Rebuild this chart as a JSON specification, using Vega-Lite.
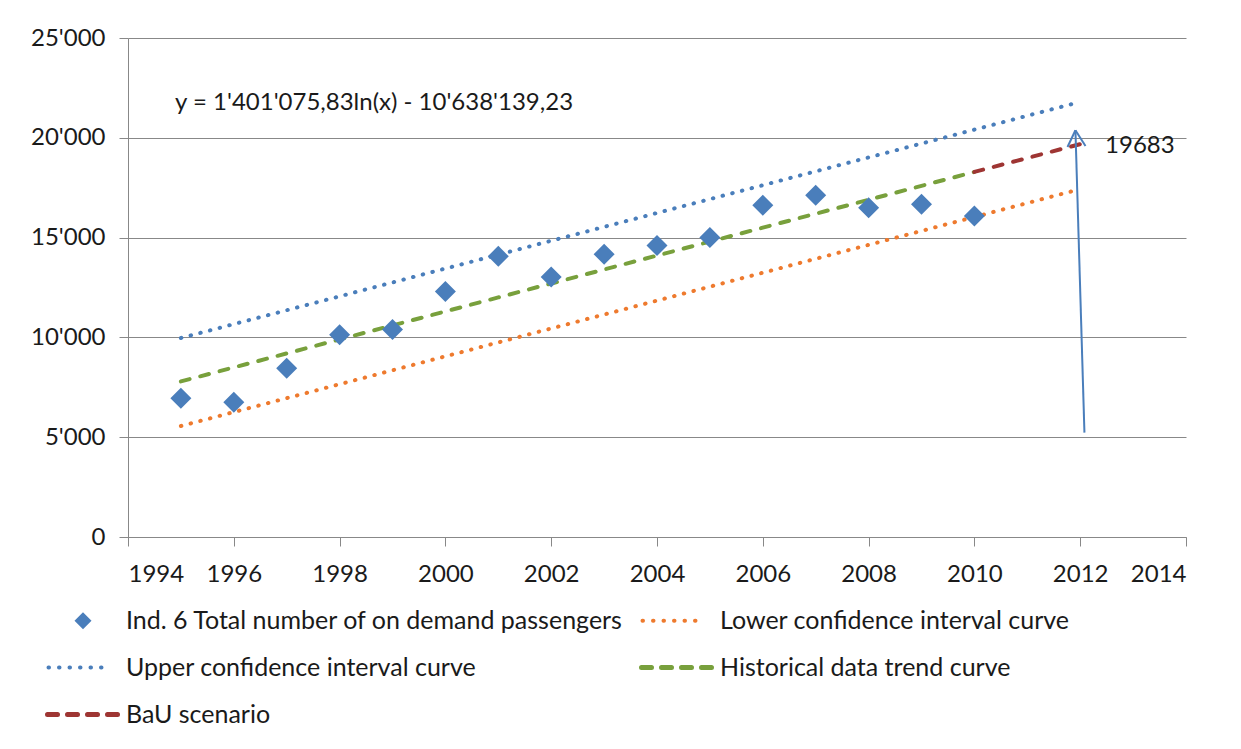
{
  "$schema": "https://vega.github.io/schema/vega-lite/v6.json",
  "width": 1058,
  "height": 499,
  "autosize": {"type": "none"},
  "padding": {"left": 128, "top": 38, "right": 55, "bottom": 212},
  "background": "white",
  "config": {
    "view": {"stroke": null},
    "font": "Lato",
    "axis": {
      "labelFont": "Lato",
      "labelFontSize": 24,
      "labelColor": "#1a1a1a",
      "domainColor": "#888888",
      "tickColor": "#888888",
      "gridColor": "#888888",
      "gridWidth": 1,
      "tickSize": 9,
      "title": null
    },
    "legend": {
      "labelFont": "Lato",
      "labelFontSize": 25,
      "labelColor": "#1a1a1a",
      "labelLimit": 1000
    }
  },
  "datasets": {
    "series": [
      {"series": "Ind. 6 Total number of on demand passengers", "year": 1995, "value": 6950},
      {"series": "Ind. 6 Total number of on demand passengers", "year": 1996, "value": 6750},
      {"series": "Ind. 6 Total number of on demand passengers", "year": 1997, "value": 8450},
      {"series": "Ind. 6 Total number of on demand passengers", "year": 1998, "value": 10130},
      {"series": "Ind. 6 Total number of on demand passengers", "year": 1999, "value": 10390},
      {"series": "Ind. 6 Total number of on demand passengers", "year": 2000, "value": 12300},
      {"series": "Ind. 6 Total number of on demand passengers", "year": 2001, "value": 14060},
      {"series": "Ind. 6 Total number of on demand passengers", "year": 2002, "value": 13020},
      {"series": "Ind. 6 Total number of on demand passengers", "year": 2003, "value": 14160},
      {"series": "Ind. 6 Total number of on demand passengers", "year": 2004, "value": 14610},
      {"series": "Ind. 6 Total number of on demand passengers", "year": 2005, "value": 15000},
      {"series": "Ind. 6 Total number of on demand passengers", "year": 2006, "value": 16620},
      {"series": "Ind. 6 Total number of on demand passengers", "year": 2007, "value": 17120},
      {"series": "Ind. 6 Total number of on demand passengers", "year": 2008, "value": 16500},
      {"series": "Ind. 6 Total number of on demand passengers", "year": 2009, "value": 16670},
      {"series": "Ind. 6 Total number of on demand passengers", "year": 2010, "value": 16080},
      {"series": "Lower confidence interval curve", "year": 1995, "value": 5560},
      {"series": "Lower confidence interval curve", "year": 2012, "value": 17430},
      {"series": "Upper confidence interval curve", "year": 1995, "value": 9970},
      {"series": "Upper confidence interval curve", "year": 2012, "value": 21800},
      {"series": "Historical data trend curve", "year": 1995, "value": 7794},
      {"series": "Historical data trend curve", "year": 1996, "value": 8496},
      {"series": "Historical data trend curve", "year": 1997, "value": 9198},
      {"series": "Historical data trend curve", "year": 1998, "value": 9900},
      {"series": "Historical data trend curve", "year": 1999, "value": 10601},
      {"series": "Historical data trend curve", "year": 2000, "value": 11302},
      {"series": "Historical data trend curve", "year": 2001, "value": 12002},
      {"series": "Historical data trend curve", "year": 2002, "value": 12702},
      {"series": "Historical data trend curve", "year": 2003, "value": 13402},
      {"series": "Historical data trend curve", "year": 2004, "value": 14101},
      {"series": "Historical data trend curve", "year": 2005, "value": 14800},
      {"series": "Historical data trend curve", "year": 2006, "value": 15499},
      {"series": "Historical data trend curve", "year": 2007, "value": 16197},
      {"series": "Historical data trend curve", "year": 2008, "value": 16895},
      {"series": "Historical data trend curve", "year": 2009, "value": 17593},
      {"series": "Historical data trend curve", "year": 2010, "value": 18290},
      {"series": "BaU scenario", "year": 2010, "value": 18290},
      {"series": "BaU scenario", "year": 2011, "value": 18987},
      {"series": "BaU scenario", "year": 2012, "value": 19684}
    ],
    "arrow": [
      {"part": "shaft", "x": 2012.08, "y": 5230, "x2": 2011.91, "y2": 20380},
      {"part": "left", "x": 2011.76, "y": 19540, "x2": 2011.91, "y2": 20380},
      {"part": "right", "x": 2012.1, "y": 19590, "x2": 2011.91, "y2": 20380}
    ],
    "notes": [
      {"year": 1994.89, "value": 21730, "text": "y = 1'401'075,83ln(x) - 10'638'139,23"},
      {"year": 2012.47, "value": 19570, "text": "19683"}
    ]
  },
  "layer": [
    {
      "data": {"name": "series"},
      "transform": [{"filter": "datum.series !== 'Ind. 6 Total number of on demand passengers'"}],
      "mark": {"type": "line", "strokeCap": "round"},
      "encoding": {
        "x": {
          "field": "year", "type": "quantitative",
          "scale": {"domain": [1994, 2014], "nice": false, "zero": false},
          "axis": {"values": [1994, 1996, 1998, 2000, 2002, 2004, 2006, 2008, 2010, 2012, 2014], "format": "d", "grid": false, "labelPadding": 16}
        },
        "y": {
          "field": "value", "type": "quantitative",
          "scale": {"domain": [0, 25000], "nice": false},
          "axis": {"values": [0, 5000, 10000, 15000, 20000, 25000], "grid": true, "labelPadding": 14,
                   "labelExpr": "replace(format(datum.value, ','), ',', \"'\")"}
        },
        "color": {
          "field": "series", "type": "nominal",
          "scale": {
            "domain": ["Ind. 6 Total number of on demand passengers", "Lower confidence interval curve", "Upper confidence interval curve", "Historical data trend curve", "BaU scenario"],
            "range": ["#4A7EBB", "#EE7A2E", "#4A7EBB", "#78A03C", "#9E3533"]
          },
          "legend": {
            "title": null,
            "orient": "none",
            "legendX": -91,
            "legendY": 570,
            "columns": 2,
            "direction": "horizontal",
            "rowPadding": 21,
            "columnPadding": 7,
            "labelOffset": 36,
            "symbolType": "stroke",
            "symbolSize": 2916,
            "symbolStrokeWidth": 4,
            "encode": {
              "symbols": {
                "update": {
                  "x": {"signal": "datum.value === 'Ind. 6 Total number of on demand passengers' ? 46 : (datum.value === 'Lower confidence interval curve' || datum.value === 'Upper confidence interval curve' ? 43 : 45.5)"},
                  "shape": {"signal": "datum.value === 'Ind. 6 Total number of on demand passengers' ? 'diamond' : 'stroke'"},
                  "size": {"signal": "datum.value === 'Ind. 6 Total number of on demand passengers' ? 289 : (datum.value === 'Lower confidence interval curve' || datum.value === 'Upper confidence interval curve' ? 3969 : 4900)"},
                  "fill": {"signal": "datum.value === 'Ind. 6 Total number of on demand passengers' ? '#4A7EBB' : 'transparent'"},
                  "stroke": {"signal": "scale('color', datum.value)"},
                  "strokeWidth": {"signal": "datum.value === 'Ind. 6 Total number of on demand passengers' ? 0 : (datum.value === 'Lower confidence interval curve' || datum.value === 'Upper confidence interval curve' ? 4 : 5)"},
                  "strokeDash": {"signal": "datum.value === 'Lower confidence interval curve' || datum.value === 'Upper confidence interval curve' ? [0.5, 10] : [10, 10]"},
                  "strokeCap": {"value": "round"},
                  "opacity": {"value": 1}
                }
              },
              "labels": {
                "update": {
                  "x": {"value": 89}
                }
              }
            }
          }
        },
        "strokeDash": {
          "field": "series", "type": "nominal",
          "scale": {
            "domain": ["Lower confidence interval curve", "Upper confidence interval curve", "Historical data trend curve", "BaU scenario"],
            "range": [[0.5, 9.5], [0.5, 9.5], [9, 11], [9, 11]]
          },
          "legend": null
        },
        "strokeWidth": {
          "field": "series", "type": "nominal",
          "scale": {
            "domain": ["Lower confidence interval curve", "Upper confidence interval curve", "Historical data trend curve", "BaU scenario"],
            "range": [4, 4, 5, 5]
          },
          "legend": null
        }
      }
    },
    {
      "data": {"name": "series"},
      "transform": [{"filter": "datum.series === 'Ind. 6 Total number of on demand passengers'"}],
      "mark": {"type": "point", "shape": "diamond", "filled": true, "size": 441, "opacity": 1},
      "encoding": {
        "x": {"field": "year", "type": "quantitative"},
        "y": {"field": "value", "type": "quantitative"},
        "color": {"field": "series", "type": "nominal"}
      }
    },
    {
      "data": {"name": "arrow"},
      "mark": {"type": "rule", "color": "#4A7EBB", "strokeWidth": 2},
      "encoding": {
        "x": {"field": "x", "type": "quantitative"},
        "y": {"field": "y", "type": "quantitative"},
        "x2": {"field": "x2"},
        "y2": {"field": "y2"}
      }
    },
    {
      "data": {"name": "notes"},
      "mark": {"type": "text", "align": "left", "baseline": "middle", "font": "Lato", "fontSize": 24, "color": "#1a1a1a"},
      "encoding": {
        "x": {"field": "year", "type": "quantitative"},
        "y": {"field": "value", "type": "quantitative"},
        "text": {"field": "text"}
      }
    }
  ]
}
